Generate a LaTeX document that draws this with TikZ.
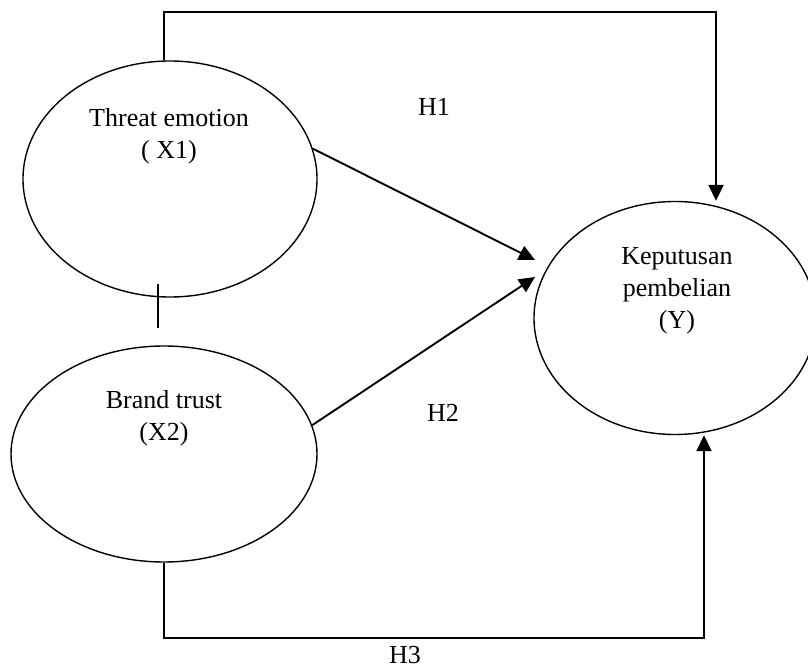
\documentclass[tikz,border=0pt]{standalone}
\usepackage{fontspec}
\setmainfont{Liberation Serif}
\usetikzlibrary{shapes.geometric, arrows.meta}

\begin{document}
\begin{tikzpicture}[x=1pt, y=-1pt,
		var/.style={draw, ellipse, line width=1.4pt, inner sep=0pt},
		txt/.style={align=center, font=\fontsize{26}{32}\selectfont},
		arr/.style={line width=1.9pt, -{Triangle[length=16pt, width=15pt]}}]
			\useasboundingbox (0, 0) rectangle (808, 668);
			
			\node[var, minimum width=294pt, minimum height=236pt] (X1) at (170, 179) {};
			\node[var, minimum width=306pt, minimum height=216pt] (X2) at (164, 454) {};
			\node[var, minimum width=282pt, minimum height=233pt] (Y) at (675, 318) {};
			
			\node[txt] (X1text) at (169, 136) {Threat emotion\\( X1)};
			\node[txt] (X2text) at (164, 418) {Brand trust\\(X2)};
			\node[txt] (Ytext) at (677, 291) {Keputusan\\pembelian\\(Y)};
			
			\coordinate (H1turn) at (716, 12);
			\coordinate (H3turn) at (704, 638);
			\coordinate (P1) at (535, 260);
			\coordinate (P2) at (535, 277);
			\coordinate (T1) at (158, 284);
			\coordinate (T2) at (158, 328);
			
			\draw[arr] (X1.93) |- (H1turn) -- (H1turn |- Y.north);
			\draw[arr] (X1.12) -- (P1);
			\draw[arr] (X2.11) -- (P2);
			\draw[arr] (X2.south) |- (H3turn) -- (H3turn |- Y.south);
			\draw[line width=1.4pt] (T1) -- (T2);
			
			\node[txt] (H1) at (434, 107) {H1};
			\node[txt] (H2) at (443, 413) {H2};
			\node[txt, inner sep=0pt] (H3) at (405, 655) {H3};
			\end{tikzpicture}
\end{document}
